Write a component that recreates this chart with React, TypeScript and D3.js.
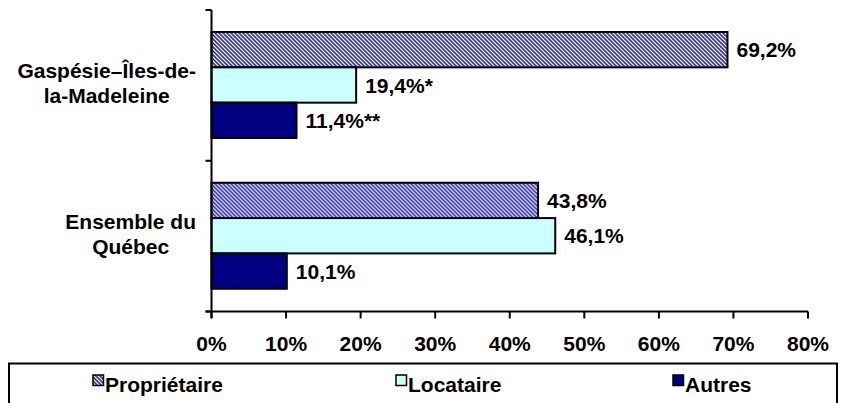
import React, { useEffect, useRef } from 'react';
import * as d3 from 'd3';

const categories = ['Gaspésie–Îles-de-la-Madeleine', 'Ensemble du Québec'];
const categoryLines = [['Gaspésie–Îles-de-', 'la-Madeleine'], ['Ensemble du', 'Québec']];
const series = ['Propriétaire', 'Locataire', 'Autres'];
const values = [
  [0.692, 0.194, 0.114],
  [0.438, 0.461, 0.101],
];
const valueLabels = [
  ['69,2%', '19,4%*', '11,4%**'],
  ['43,8%', '46,1%', '10,1%'],
];
const ticks = [0, 0.1, 0.2, 0.3, 0.4, 0.5, 0.6, 0.7, 0.8];

const W = 841;
const H = 403;
const FONT = '"Liberation Sans", Arial, sans-serif';
const FS = 21;
const fills = ['url(#hatch)', '#ccffff', '#000080'];

export default function App() {
  const svgRef = useRef<SVGSVGElement>(null);

  useEffect(() => {
    if (!svgRef.current) return;
    const svg = d3.select(svgRef.current);
    svg.selectAll('*').remove();

    // hatch pattern for Propriétaire
    const defs = svg.append('defs');
    const pat = defs.append('pattern')
      .attr('id', 'hatch')
      .attr('patternUnits', 'userSpaceOnUse')
      .attr('width', 4)
      .attr('height', 4);
    pat.append('rect').attr('width', 4).attr('height', 4).attr('fill', '#ffffff');
    pat.append('path')
      .attr('d', 'M-1,-1 L5,5 M-1,3 L1,5 M3,-1 L5,1')
      .attr('stroke', '#3434b8')
      .attr('stroke-width', 1.7);

    const x = d3.scaleLinear().domain([0, 0.8]).range([211.5, 808]);
    const y = d3.scaleBand().domain(categories).range([10, 311.5]).padding(0);
    const sub = d3.scaleBand().domain(series).range([22, 128]).padding(0);

    // bars
    categories.forEach((cat, ci) => {
      const g = svg.append('g').attr('transform', `translate(0,${y(cat)})`);
      series.forEach((s, si) => {
        const v = values[ci][si];
        g.append('rect')
          .attr('x', x(0))
          .attr('y', sub(s)!)
          .attr('width', x(v) - x(0))
          .attr('height', sub.bandwidth())
          .attr('fill', fills[si])
          .attr('stroke', '#000')
          .attr('stroke-width', 2);
        g.append('text')
          .attr('x', x(v) + 9)
          .attr('y', sub(s)! + sub.bandwidth() / 2)
          .attr('dy', '0.36em')
          .attr('font-family', FONT)
          .attr('font-weight', 'bold')
          .attr('font-size', FS)
          .attr('fill', '#000')
          .text(valueLabels[ci][si]);
      });
    });

    // y axis
    svg.append('line')
      .attr('x1', x(0)).attr('x2', x(0))
      .attr('y1', 10).attr('y2', 318)
      .attr('stroke', '#000').attr('stroke-width', 2);
    [10, y(categories[1])!, 311.5].forEach((ty) => {
      svg.append('line')
        .attr('x1', x(0) - 6).attr('x2', x(0))
        .attr('y1', ty).attr('y2', ty)
        .attr('stroke', '#000').attr('stroke-width', 2);
    });

    // category labels, centered blocks right-aligned to ~196
    categories.forEach((cat, ci) => {
      const t = svg.append('text')
        .attr('font-family', FONT)
        .attr('font-weight', 'bold')
        .attr('font-size', FS)
        .attr('fill', '#000')
        .attr('text-anchor', 'middle');
      const lines = categoryLines[ci];
      const cy = y(cat)! + y.bandwidth() / 2 - 2;
      lines.forEach((ln, li) => {
        t.append('tspan')
          .attr('x', 0)
          .attr('y', cy + (li - (lines.length - 1) / 2) * 25)
          .attr('dy', '0.36em')
          .text(ln);
      });
      let maxW = 0;
      t.selectAll<SVGTSpanElement, unknown>('tspan').each(function () {
        maxW = Math.max(maxW, this.getComputedTextLength());
      });
      t.attr('transform', `translate(${196 - maxW / 2},0)`);
    });

    // x axis
    const xa = svg.append('g').attr('transform', 'translate(0,311.5)');
    xa.append('line')
      .attr('x1', x(0) - 6).attr('x2', x(0.8))
      .attr('stroke', '#000').attr('stroke-width', 2);
    ticks.forEach((tv) => {
      xa.append('line')
        .attr('x1', x(tv)).attr('x2', x(tv))
        .attr('y1', 0).attr('y2', 7)
        .attr('stroke', '#000').attr('stroke-width', 2);
      xa.append('text')
        .attr('x', x(tv))
        .attr('y', 39)
        .attr('text-anchor', 'middle')
        .attr('font-family', FONT)
        .attr('font-weight', 'bold')
        .attr('font-size', FS)
        .attr('fill', '#000')
        .text(d3.format('.0%')(tv));
    });

    // legend
    svg.append('rect')
      .attr('x', 9).attr('y', 363.5)
      .attr('width', 828).attr('height', 45)
      .attr('fill', '#fff')
      .attr('stroke', '#000').attr('stroke-width', 2);
    const legendX = [93, 396, 673];
    series.forEach((s, si) => {
      svg.append('rect')
        .attr('x', legendX[si]).attr('y', 375)
        .attr('width', 10.5).attr('height', 10.5)
        .attr('fill', fills[si])
        .attr('stroke', '#000').attr('stroke-width', 1.5);
      svg.append('text')
        .attr('x', legendX[si] + 12)
        .attr('y', 384)
        .attr('dy', '0.36em')
        .attr('font-family', FONT)
        .attr('font-weight', 'bold')
        .attr('font-size', FS)
        .attr('fill', '#000')
        .text(s);
    });
  }, []);

  return (
    <svg
      ref={svgRef}
      width={W}
      height={H}
      style={{ position: 'absolute', left: 0, top: 0, background: '#fff' }}
    />
  );
}
